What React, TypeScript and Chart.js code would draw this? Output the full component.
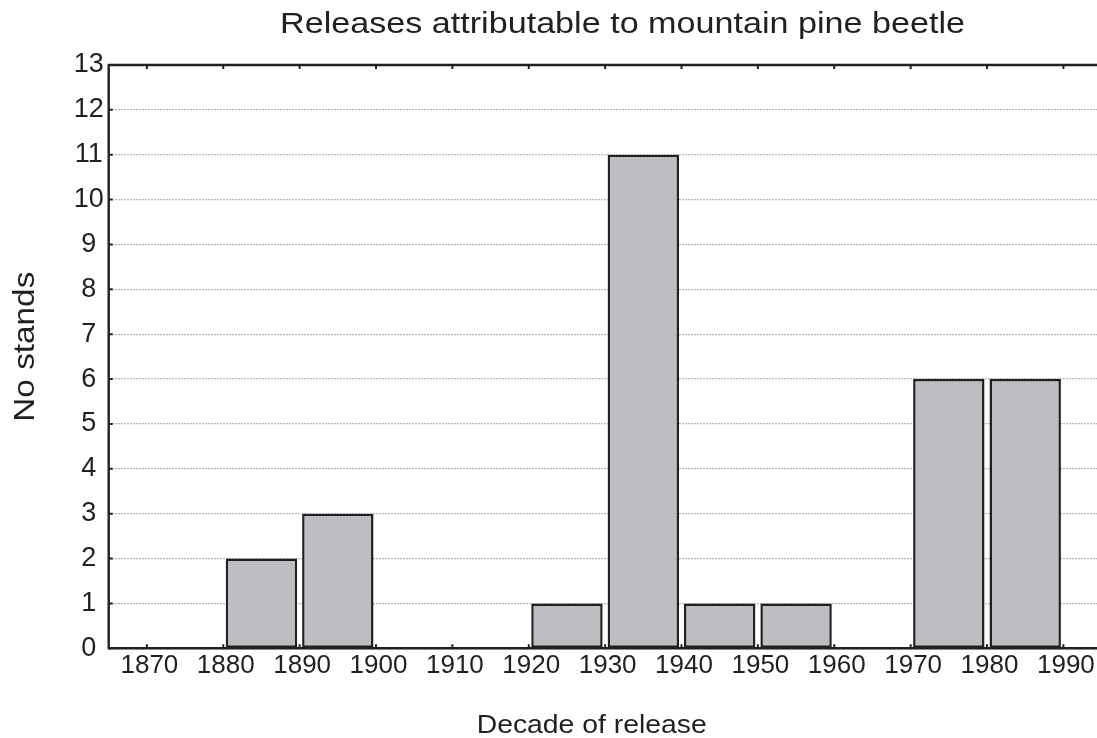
import React, { useEffect, useRef } from "react";
import { Chart, registerables } from "chart.js";

Chart.register(...registerables);

// ---- data ----
const DECADE_STARTS = [1870, 1880, 1890, 1900, 1910, 1920, 1930, 1940, 1950, 1960, 1970, 1980];
const STANDS = [0, 2, 3, 0, 0, 1, 11, 1, 1, 0, 6, 6];
const X_TICKS = [1870, 1880, 1890, 1900, 1910, 1920, 1930, 1940, 1950, 1960, 1970, 1980, 1990];
const Y_TICKS = [0, 1, 2, 3, 4, 5, 6, 7, 8, 9, 10, 11, 12, 13];
const TITLE = "Releases attributable to mountain pine beetle";
const X_TITLE = "Decade of release";
const Y_TITLE = "No stands";

const INK = "#231f20";
const FONT = '"Liberation Sans", Arial, Helvetica, sans-serif';

function drawStretched(ctx: CanvasRenderingContext2D, text: string, size: number, x: number, y: number, width: number, rotate: boolean) {
  ctx.save();
  ctx.font = `${size}px ${FONT}`;
  ctx.fillStyle = INK;
  ctx.textAlign = "center";
  ctx.textBaseline = "alphabetic";
  const w = ctx.measureText(text).width;
  ctx.translate(x, y);
  if (rotate) ctx.rotate(-Math.PI / 2);
  ctx.scale(width / w, 1);
  ctx.fillText(text, 0, 0);
  ctx.restore();
}

const framePlugin = {
  id: "frame",
  afterDatasetsDraw(chart: any) {
    const { ctx, chartArea } = chart;
    const { left, right, top, bottom } = chartArea;
    const xs = chart.scales.x;
    const ys = chart.scales.y;
    ctx.save();
    ctx.strokeStyle = INK;
    ctx.lineWidth = 2.4;
    ctx.beginPath();
    ctx.moveTo(left - 1, top);
    ctx.lineTo(right, top);
    ctx.moveTo(left, top);
    ctx.lineTo(left, bottom);
    ctx.moveTo(left - 1, bottom);
    ctx.lineTo(right, bottom);
    ctx.stroke();
    ctx.lineWidth = 2;
    ctx.beginPath();
    xs.ticks.forEach((t: any) => {
      const px = xs.getPixelForValue(t.value);
      ctx.moveTo(px, top);
      ctx.lineTo(px, top + 4);
      ctx.moveTo(px, bottom);
      ctx.lineTo(px, bottom - 4);
    });
    ys.ticks.forEach((t: any) => {
      const py = ys.getPixelForValue(t.value);
      ctx.moveTo(left, py);
      ctx.lineTo(left + 4, py);
    });
    ctx.stroke();
    ctx.restore();
  },
  afterDraw(chart: any) {
    const { ctx } = chart;
    drawStretched(ctx, TITLE, 30, 622.5, 33.3, 685, false);
    drawStretched(ctx, X_TITLE, 25, 591.7, 733, 230, false);
    drawStretched(ctx, Y_TITLE, 29, 33.5, 346.7, 150, true);
  },
};

export default function App() {
  const ref = useRef<HTMLCanvasElement | null>(null);

  useEffect(() => {
    if (!ref.current) return;
    const chart = new Chart(ref.current, {
      type: "bar",
      data: {
        datasets: [
          {
            data: DECADE_STARTS.map((d, i) => ({ x: d + 5, y: STANDS[i] })),
            backgroundColor: "#bdbec2",
            borderColor: INK,
            borderWidth: 2.5,
            borderSkipped: false,
            categoryPercentage: 1,
            barPercentage: 0.935,
          },
        ],
      },
      options: {
        animation: false,
        responsive: false,
        devicePixelRatio: 1,
        layout: { padding: { top: 65, left: 0, right: 0, bottom: 0 } },
        plugins: {
          legend: { display: false },
          title: { display: false },
          tooltip: { enabled: false },
        },
        scales: {
          x: {
            type: "linear",
            offset: false,
            min: 1865,
            max: 1994.4,
            afterBuildTicks: (scale: any) => {
              scale.ticks = X_TICKS.map((v) => ({ value: v }));
            },
            afterFit: (scale: any) => {
              scale.height = 738 - 648.3;
            },
            grid: { display: false, drawTicks: false, offset: false },
            border: { display: false },
            ticks: {
              autoSkip: false,
              maxRotation: 0,
              minRotation: 0,
              padding: 1.5,
              labelOffset: 2.5,
              color: INK,
              font: { family: FONT, size: 26 },
              callback: (v: any) => String(v),
            },
          },
          y: {
            type: "linear",
            min: 0,
            max: 13,
            afterBuildTicks: (scale: any) => {
              scale.ticks = Y_TICKS.map((v) => ({ value: v }));
            },
            afterFit: (scale: any) => {
              scale.width = 108.7;
            },
            grid: { color: "#b8b8b8", lineWidth: 1.2, drawTicks: false },
            border: { display: false, dash: [2, 1] },
            ticks: {
              padding: 5,
              crossAlign: "center",
              color: INK,
              font: { family: FONT, size: 27 },
              callback: (v: any) => String(v),
            },
          },
        },
      },
      plugins: [framePlugin],
    } as any);
    return () => chart.destroy();
  }, []);

  return (
    <div style={{ position: "fixed", left: 0, top: 0, width: 1097, height: 738, background: "#ffffff" }}>
      <canvas ref={ref} width={1097} height={738} style={{ display: "block", width: 1097, height: 738 }} />
    </div>
  );
}
